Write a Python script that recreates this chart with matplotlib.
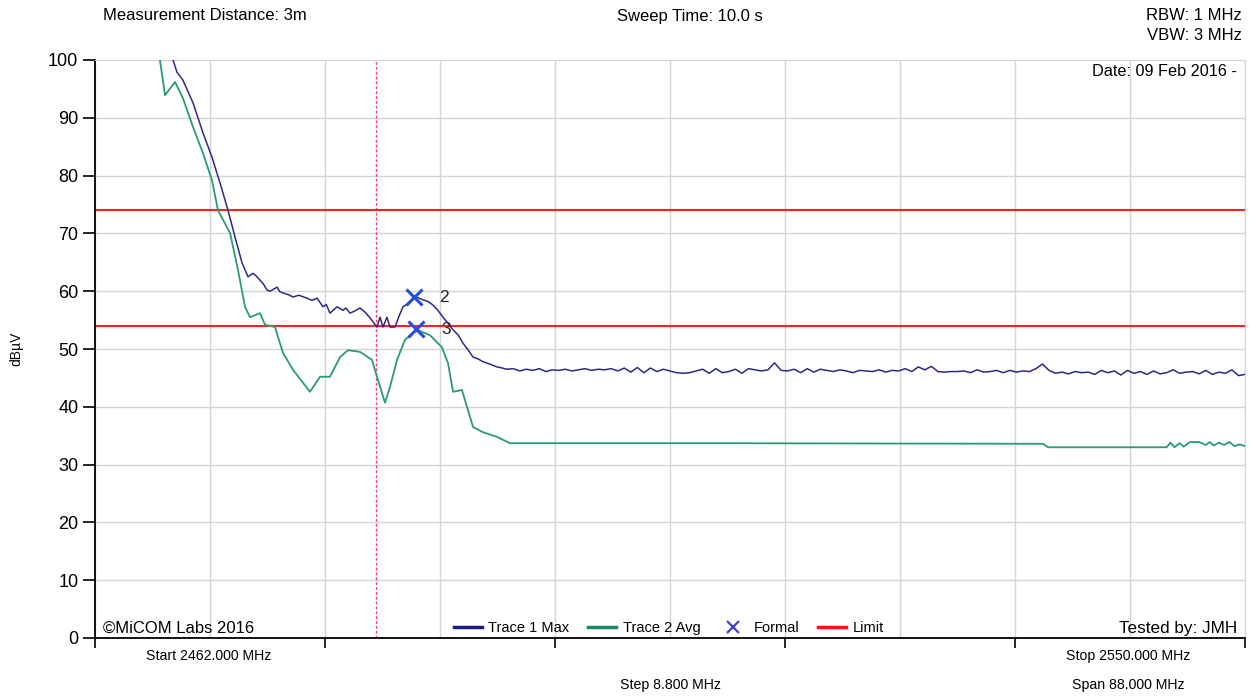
import numpy as np
import matplotlib
matplotlib.use("Agg")
import matplotlib.pyplot as plt
from matplotlib.lines import Line2D

plt.rcParams['font.family'] = ['Liberation Sans', 'DejaVu Sans']

# sweep settings
f_start, f_stop, f_step = 2462.0, 2550.0, 8.8

# Trace 1 (max hold) - the slope and the bump
t1_freq = [2467.6, 2467.97, 2468.27, 2468.73, 2469.50, 2470.26, 2470.95, 2471.57,
           2472.18, 2472.71, 2473.25, 2473.71, 2474.09, 2474.35, 2474.63, 2474.9,
           2475.16, 2475.4, 2475.93, 2476.15, 2476.39, 2476.8, 2477.15, 2477.6,
           2478.22, 2478.6, 2478.99, 2479.45, 2479.7, 2479.98, 2480.52, 2480.98,
           2481.2, 2481.51, 2481.9, 2482.28, 2482.7, 2483.04, 2483.58, 2483.81,
           2484.04, 2484.34, 2484.57, 2484.96, 2485.25, 2485.57, 2485.9, 2486.33,
           2486.7, 2487.10, 2487.5, 2487.86, 2488.2, 2488.63, 2489.0, 2489.40,
           2489.8, 2490.16, 2490.5, 2490.93, 2491.3, 2491.69, 2492.2, 2492.76]
t1_val = [101.5, 100.0, 97.9, 96.5, 92.6, 87.4, 83.2, 78.7,
          74.0, 69.4, 64.9, 62.5, 63.1, 62.6, 61.9, 61.2,
          60.2, 60.0, 60.7, 59.9, 59.7, 59.4, 59.0, 59.3,
          58.8, 58.4, 58.8, 57.3, 57.7, 56.2, 57.3, 56.7,
          57.1, 56.2, 56.6, 57.1, 56.3, 55.4, 53.8, 55.5,
          53.8, 55.5, 53.8, 53.8, 55.6, 57.3, 57.8, 58.8,
          58.9, 58.5, 58.2, 57.6, 56.8, 55.5, 54.5, 53.3,
          52.4, 51.0, 50.0, 48.6, 48.3, 47.8, 47.4, 46.9]

# Trace 1 flat noisy part, one reading every 0.5 MHz
t1_tail_freq = np.arange(2493.0, 2550.01, 0.5)
t1_tail_val = [46.8, 46.5, 46.6, 46.2, 46.5, 46.3, 46.6, 46.1, 46.4, 46.3,
               46.5, 46.2, 46.4, 46.6, 46.3, 46.5, 46.4, 46.6, 46.2, 46.7,
               46.0, 46.8, 45.9, 46.7, 46.1, 46.5, 46.2, 45.9, 45.8, 45.9,
               46.2, 46.5, 45.8, 46.6, 45.9, 46.1, 46.5, 45.8, 46.6, 46.4,
               46.2, 46.4, 47.6, 46.3, 46.2, 46.5, 45.9, 46.6, 46.0, 46.5,
               46.3, 46.1, 46.4, 46.2, 45.9, 46.3, 46.2, 46.1, 46.4, 46.0,
               46.3, 46.2, 46.6, 46.1, 46.9, 46.4, 47.0, 46.1, 46.0, 46.1,
               46.1, 46.2, 45.9, 46.4, 46.0, 46.1, 46.3, 45.9, 46.3, 46.0,
               46.2, 46.1, 46.6, 47.4, 46.3, 45.8, 46.0, 45.7, 46.1, 45.9,
               46.0, 45.6, 46.3, 45.9, 46.2, 45.5, 46.3, 45.8, 46.1, 45.6,
               46.2, 45.7, 45.9, 46.4, 45.8, 46.0, 46.1, 45.7, 46.3, 45.6,
               46.0, 45.8, 46.4, 45.4, 45.6]

# Trace 2 (average)
t2_freq = [2466.6, 2466.97, 2467.36, 2468.12, 2468.73, 2469.50, 2470.26, 2470.95,
           2471.41, 2472.33, 2472.94, 2473.48, 2473.86, 2474.63, 2475.01, 2475.77,
           2476.39, 2477.15, 2478.45, 2479.22, 2479.98, 2480.75, 2481.36, 2482.28,
           2483.20, 2483.66, 2484.19, 2484.57, 2485.11, 2485.72, 2486.64, 2487.63,
           2488.55, 2489.01, 2489.40, 2490.08, 2490.93, 2491.69, 2492.76, 2493.76,
           2510.0, 2534.54, 2534.93, 2544.0, 2544.3, 2544.6, 2545.0, 2545.3,
           2545.8, 2546.5, 2547.0, 2547.3, 2547.6, 2548.0, 2548.4, 2548.8,
           2549.2, 2549.6, 2550.0]
t2_val = [101.5, 100.0, 93.9, 96.2, 93.4, 88.4, 83.9, 79.2,
          74.0, 70.1, 63.7, 57.3, 55.5, 56.2, 54.2, 53.8,
          49.3, 46.4, 42.6, 45.2, 45.2, 48.6, 49.8, 49.5,
          48.1, 44.6, 40.7, 43.4, 48.1, 51.6, 53.3, 52.4,
          50.3, 47.6, 42.6, 42.9, 36.5, 35.6, 34.8, 33.7,
          33.7, 33.6, 33.0, 33.0, 33.8, 33.0, 33.7, 33.1,
          33.9, 33.9, 33.4, 33.9, 33.3, 33.8, 33.4, 33.9,
          33.2, 33.5, 33.2]

limit_levels = [74, 54]
band_edge = 2483.5
marker_freq = [2486.4, 2486.6]
marker_val = [59.0, 53.5]
marker_names = ['2', '3']

W, H = 1252, 696
fig = plt.figure(figsize=(W / 100, H / 100), dpi=100)
ax = fig.add_axes([95 / W, 1 - 638 / H, 1150 / W, 578 / H])

def fx(px):
    return px / W

def fy(py):
    return 1 - py / H

# grid
for f in np.arange(f_start, f_stop + 0.01, f_step):
    ax.axvline(f, color='#d4d4d4', lw=1, zorder=0)
for v in range(10, 100, 10):
    ax.axhline(v, color='#d4d4d4', lw=1, zorder=0)

ax.axvline(band_edge, color='#ff3c6e', lw=1, ls=(0, (2, 1.5)), zorder=1)

for lv in limit_levels:
    ax.axhline(lv, color='#ff2020', lw=1.5, zorder=2)

ax.plot(t2_freq, t2_val, color='#2a9a78', lw=1.3, zorder=3)
ax.plot(list(t1_freq) + list(t1_tail_freq), list(t1_val) + list(t1_tail_val),
        color='#2c2a88', lw=1.1, zorder=4)

ax.plot(marker_freq, marker_val, 'x', color='#2050e0', ms=11, mew=2.2, zorder=5)
for f, v, name in zip(marker_freq, marker_val, marker_names):
    ax.annotate(name, (f, v), xytext=(30, -1), textcoords='offset pixels',
                fontsize=12.5, va='center', ha='center', color='#222222')

ax.set_xlim(f_start, f_stop)
ax.set_ylim(0, 100)
ax.set_yticks(range(0, 101, 10))
ax.set_xticks(np.arange(f_start, f_stop + 0.01, 2 * f_step))
ax.set_xticklabels([])
ax.tick_params(axis='y', direction='out', length=9, width=1.2, labelsize=13, pad=3)
ax.tick_params(axis='x', direction='out', length=7, width=1.2)
ax.spines['left'].set_linewidth(1.3)
ax.spines['bottom'].set_linewidth(1.3)
ax.spines['top'].set_color('#d4d4d4')
ax.spines['right'].set_color('#d4d4d4')
ax.set_ylabel('dBµV', fontsize=10, labelpad=18)

# header / footer texts
fig.text(fx(103), fy(16), 'Measurement Distance: 3m', fontsize=12, va='center')
fig.text(fx(690), fy(16), 'Sweep Time: 10.0 s', fontsize=12, va='center', ha='center')
fig.text(fx(1242), fy(16), 'RBW: 1 MHz', fontsize=12, va='center', ha='right')
fig.text(fx(1242), fy(35), 'VBW: 3 MHz', fontsize=12, va='center', ha='right')
fig.text(fx(1237), fy(72), 'Date: 09 Feb 2016 -', fontsize=11.7, va='center', ha='right')
fig.text(fx(103), fy(628), '©MiCOM Labs 2016', fontsize=12, va='center')
fig.text(fx(1237), fy(628), 'Tested by: JMH', fontsize=12.3, va='center', ha='right')
fig.text(fx(209), fy(656), 'Start 2462.000 MHz', fontsize=10.2, va='center', ha='center')
fig.text(fx(670), fy(685), 'Step 8.800 MHz', fontsize=10.2, va='center', ha='center')
fig.text(fx(1128), fy(656), 'Stop 2550.000 MHz', fontsize=10.2, va='center', ha='center')
fig.text(fx(1128), fy(685), 'Span 88.000 MHz', fontsize=10.2, va='center', ha='center')

handles = [Line2D([], [], color='#1a1a80', lw=2.5),
           Line2D([], [], color='#1a8a60', lw=2.5),
           Line2D([], [], color='#4040d0', marker='x', ls='none', ms=8, mew=1.6),
           Line2D([], [], color='#ff1010', lw=2.5)]
fig.legend(handles, ['Trace 1 Max', 'Trace 2 Avg', 'Formal', 'Limit'],
           loc='center', bbox_to_anchor=(fx(669), fy(628)), ncol=4, frameon=False,
           fontsize=10.5, handlelength=1.9, handletextpad=0.45, columnspacing=1.3)

fig.savefig('out.png', dpi=100, facecolor='white')
